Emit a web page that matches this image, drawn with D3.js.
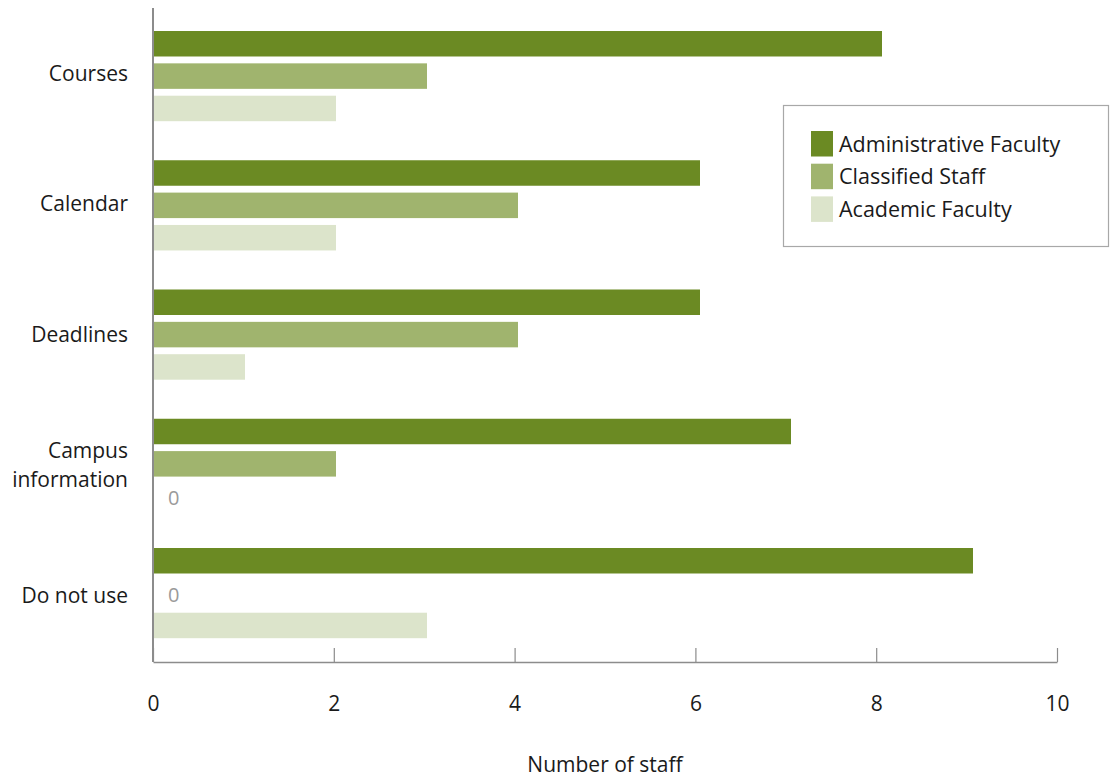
<!DOCTYPE html>
<html>
<head>
<meta charset="utf-8">
<script src="https://cdn.jsdelivr.net/npm/d3@7"></script>
<style>
  html, body { margin: 0; padding: 0; background: #fff; }
  svg { display: block; }
  text { font-family: "Open Sans", "Noto Sans", sans-serif; fill: #1a1a1a; }
</style>
</head>
<body>
<svg id="chart" width="1112" height="779"></svg>
<script>
// Survey responses: which calendar features staff use
const categories = ["Courses", "Calendar", "Deadlines", "Campus information", "Do not use"];
const seriesNames = ["Administrative Faculty", "Classified Staff", "Academic Faculty"];
const adminFaculty = [8, 6, 6, 7, 9];
const classifiedStaff = [3, 4, 4, 2, 0];
const academicFaculty = [2, 2, 1, 0, 3];
const xTicks = [0, 2, 4, 6, 8, 10];
const colors = ["#6b8a23", "#a0b46e", "#dce4cb"];

const series = [adminFaculty, classifiedStaff, academicFaculty];

const svg = d3.select("#chart");
const plotLeft = 153, plotRight = 1057, plotBottom = 662;

// axis scale and bar-length scale
const x = d3.scaleLinear().domain([0, 10]).range([plotLeft, plotRight]);
const xBar = d3.scaleLinear().domain([0, 10]).range([154, 1064]);

// category bands for bars, sub-bands for series, and label rows
const y0 = d3.scaleBand().domain(categories).range([12, 658.25]);
const y1 = d3.scaleBand().domain(seriesNames).range([19, 109.2]).paddingInner(0.212).paddingOuter(0);
const yLabel = d3.scaleBand().domain(categories).range([8, 660.5]);

// Bars (zero values shown as a grey "0")
categories.forEach((cat, ci) => {
  series.forEach((vals, si) => {
    const v = vals[ci];
    const yy = y0(cat) + y1(seriesNames[si]);
    if (v > 0) {
      svg.append("rect")
        .attr("x", xBar(0))
        .attr("y", yy)
        .attr("width", xBar(v) - xBar(0))
        .attr("height", y1.bandwidth())
        .attr("fill", colors[si]);
    } else {
      svg.append("text")
        .attr("x", x(0) + 15)
        .attr("y", yy + y1.bandwidth() / 2 + 1.5)
        .attr("dy", "0.35em")
        .attr("font-size", 20)
        .style("fill", "#9a9a9a")
        .text(v);
    }
  });
});

// Bottom axis with upward ticks
const xAxis = svg.append("g").attr("transform", `translate(0,${plotBottom})`)
  .call(d3.axisBottom(x).tickValues(xTicks).tickSizeInner(-14).tickSizeOuter(0).tickPadding(34));
xAxis.select(".domain").attr("stroke", "#8c8c8c").attr("stroke-width", 1.5);
xAxis.selectAll(".tick line").attr("stroke", "#8c8c8c").attr("stroke-width", 1.2);
xAxis.selectAll(".tick text")
  .attr("font-size", 21)
  .attr("font-family", "'Open Sans', sans-serif")
  .style("fill", "#1a1a1a");

// Left axis line
svg.append("line")
  .attr("x1", plotLeft).attr("x2", plotLeft)
  .attr("y1", 8).attr("y2", plotBottom)
  .attr("stroke", "#8c8c8c").attr("stroke-width", 2);

// Category labels
categories.forEach(cat => {
  const cy = yLabel(cat) + yLabel.bandwidth() / 2;
  const words = cat === "Campus information" ? ["Campus", "information"] : [cat];
  const lh = 29;
  words.forEach((w, i) => {
    svg.append("text")
      .attr("x", 128)
      .attr("y", cy + (i - (words.length - 1) / 2) * lh)
      .attr("dy", "0.35em")
      .attr("text-anchor", "end")
      .attr("font-size", 21)
      .text(w);
  });
});

// Axis title
svg.append("text")
  .attr("x", (plotLeft + plotRight) / 2)
  .attr("y", 765)
  .attr("dy", "0.35em")
  .attr("text-anchor", "middle")
  .attr("font-size", 21)
  .text("Number of staff");

// Legend
const lg = svg.append("g");
lg.append("rect")
  .attr("x", 783.5).attr("y", 105.5)
  .attr("width", 325).attr("height", 141)
  .attr("fill", "#fff").attr("stroke", "#a8a8a8").attr("stroke-width", 1.2);
seriesNames.forEach((name, i) => {
  const yy = 131 + i * 32.7;
  lg.append("rect")
    .attr("x", 811).attr("y", yy)
    .attr("width", 22).attr("height", 25.5)
    .attr("fill", colors[i]);
  lg.append("text")
    .attr("x", 839).attr("y", yy + 13)
    .attr("dy", "0.35em")
    .attr("font-size", 21.5)
    .text(name);
});
</script>
</body>
</html>
